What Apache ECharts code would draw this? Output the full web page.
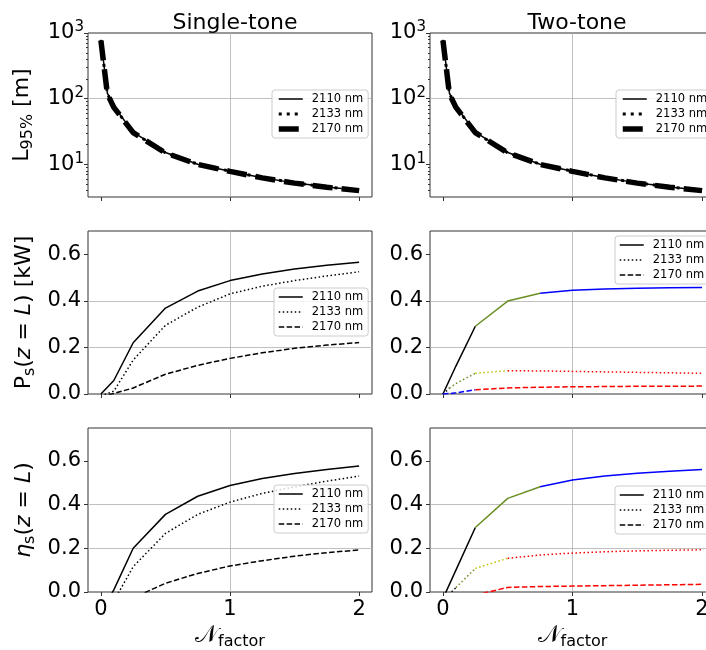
<!DOCTYPE html>
<html>
<head>
<meta charset="utf-8">
<script src="https://cdn.jsdelivr.net/npm/echarts@6/dist/echarts.min.js"></script>
<style>
  html, body { margin: 0; background: #fff; }
  #chart { width: 706px; height: 650px; }
</style>
</head>
<body>
<div id="chart"></div>
<script>
// sweep values of N_factor
const xFine = [0, 0.05, 0.1, 0.25, 0.5, 0.75, 1, 1.25, 1.5, 1.75, 2];
const xCoarse = [0, 0.1, 0.25, 0.5, 0.75, 1, 1.25, 1.5, 1.75, 2];
const wavelengths = ['2110 nm', '2133 nm', '2170 nm'];

// L95% [m] (xFine)
const lSingle2110 = [790, 122, 76, 31, 15.2, 10.1, 7.9, 6.3, 5.25, 4.55, 4.05];
const lSingle2133 = [780, 120, 75, 30.5, 15.1, 10.1, 7.9, 6.3, 5.25, 4.55, 4.05];
const lSingle2170 = [770, 118, 74, 30.5, 15.0, 10.0, 7.85, 6.25, 5.2, 4.5, 4.0];
const lTwo2110 = [790, 122, 76, 31, 15.2, 10.1, 7.9, 6.3, 5.25, 4.55, 4.05];
const lTwo2133 = [780, 120, 75, 30.5, 15.1, 10.1, 7.9, 6.3, 5.25, 4.55, 4.05];
const lTwo2170 = [770, 118, 74, 30.5, 15.0, 10.0, 7.85, 6.25, 5.2, 4.5, 4.0];

// Ps(z=L) [kW]
const psSingle2110 = [0, 0.058, 0.22, 0.369, 0.442, 0.487, 0.515, 0.537, 0.553, 0.566];   // xCoarse
const psSingle2133 = [-0.008, 0.012, 0.146, 0.295, 0.373, 0.43, 0.463, 0.487, 0.507, 0.525];
const psSingle2170 = [-0.01, 0.002, 0.026, 0.085, 0.123, 0.153, 0.177, 0.196, 0.21, 0.221];
const psTwo2110 = [0, 0.06, 0.12, 0.291, 0.399, 0.433, 0.446, 0.451, 0.454, 0.456, 0.457];  // xFine
const psTwo2133 = [0, 0.025, 0.045, 0.089, 0.100, 0.099, 0.097, 0.095, 0.093, 0.091, 0.089];
const psTwo2170 = [0, 0.002, 0.005, 0.018, 0.026, 0.029, 0.031, 0.032, 0.033, 0.033, 0.034];

// eta_s(z=L)
const etaSingle2110 = [-0.09, 0.01, 0.2, 0.355, 0.438, 0.487, 0.519, 0.542, 0.56, 0.576];  // xCoarse
const etaSingle2133 = [-0.15, -0.042, 0.116, 0.268, 0.355, 0.411, 0.451, 0.481, 0.507, 0.53];
const etaSingle2170 = [-0.2, -0.1, -0.027, 0.04, 0.085, 0.119, 0.143, 0.164, 0.18, 0.192];
const etaTwo2110 = [-0.03, 0.035, 0.1, 0.295, 0.428, 0.481, 0.512, 0.53, 0.543, 0.552, 0.56];  // xFine
const etaTwo2133 = [-0.08, -0.008, 0.02, 0.108, 0.154, 0.169, 0.178, 0.184, 0.188, 0.191, 0.193];
const etaTwo2170 = [-0.2, -0.15, -0.1, -0.014, 0.021, 0.025, 0.027, 0.029, 0.031, 0.033, 0.035];

const xTicks = [0, 1, 2];
const logTicks = [10, 100, 1000];
const linTicks = [0, 0.2, 0.4, 0.6];

const F = 'DejaVu Sans';
const GREEN = '#6b8e23', YELLOW = '#bfbf00', RED = '#ff0000', BLUE = '#0000ff';

// colour segments for two-tone curves: [fromIndex, toIndex, colour]
const psTwoSegs = [
  [[0, 3, '#000'], [3, 5, GREEN], [5, 10, BLUE]],
  [[0, 1, '#000'], [1, 3, GREEN], [3, 4, YELLOW], [4, 10, RED]],
  [[0, 3, BLUE], [3, 10, RED]]
];
const etaTwoSegs = [
  [[0, 3, '#000'], [3, 5, GREEN], [5, 10, BLUE]],
  [[0, 2, '#000'], [2, 3, GREEN], [3, 4, YELLOW], [4, 10, RED]],
  [[0, 3, BLUE], [3, 10, RED]]
];

const topStyles = [
  { width: 1.5, type: 'solid' },
  { width: 3, type: [3, 5] },
  { width: 5.5, type: [20, 9] }
];
const lowStyles = [
  { width: 1.5, type: 'solid' },
  { width: 1.5, type: [1.5, 2.5] },
  { width: 1.5, type: [5.5, 2.4] }
];

const cols = [{ left: 88, width: 284 }, { left: 430, width: 285 }];
const rows = [{ top: 33, height: 164 }, { top: 231, height: 163 }, { top: 428, height: 164 }];

const pairs = (xs, ys, from, to) => {
  const out = [];
  for (let i = from; i <= to; i++) out.push([xs[i], ys[i]]);
  return out;
};

const grid = [], xAxis = [], yAxis = [], series = [], legend = [];

const nameRich = {
  n: { fontSize: 22, fontFamily: F, color: '#000', lineHeight: 28 },
  i: { fontSize: 22, fontFamily: F, fontStyle: 'italic', color: '#000', lineHeight: 28 },
  sub: { fontSize: 16, fontFamily: F, color: '#000', verticalAlign: 'bottom', lineHeight: 16 },
  cal: { fontSize: 24, fontFamily: F, color: '#000', lineHeight: 28 }
};

const yNames = [
  '{n|L}{sub|95%}{n| [m]}',
  '{n|P}{sub|s}{n|(}{i|z}{n| = }{i|L}{n|) [kW]}',
  '{i|η}{sub|s}{n|(}{i|z}{n| = }{i|L}{n|)}'
];

for (let r = 0; r < 3; r++) {
  for (let c = 0; c < 2; c++) {
    const gi = r * 2 + c;
    grid.push({
      left: cols[c].left, width: cols[c].width, top: rows[r].top, height: rows[r].height,
      show: true, borderColor: '#333', borderWidth: 1, backgroundColor: 'transparent',
      outerBoundsMode: 'none'
    });
    xAxis.push({
      type: 'value', gridIndex: gi, min: -0.1, max: 2.1, splitNumber: 2,
      axisLine: { show: false, onZero: false },
      axisTick: { show: true, length: 4, customValues: xTicks, lineStyle: { color: '#333' } },
      axisLabel: {
        show: r === 2, customValues: xTicks, fontSize: 21, fontFamily: F, color: '#000', margin: 7
      },
      splitLine: { show: true, showMinLine: false, showMaxLine: false, lineStyle: { color: '#b0b0b0', width: 0.8 } },
      name: r === 2 ? '{cal|𝒩}{sub|factor}' : '',
      nameLocation: 'middle', nameGap: 30,
      nameTextStyle: { rich: nameRich }
    });
    const yBase = {
      gridIndex: gi,
      axisLine: { show: false, onZero: false },
      splitLine: { show: true, showMinLine: false, showMaxLine: false, lineStyle: { color: '#b0b0b0', width: 0.8 } },
      name: c === 0 ? yNames[r] : '',
      nameLocation: 'middle', nameRotate: 90, nameGap: r === 0 ? 52 : 50,
      nameTextStyle: { rich: nameRich }
    };
    if (r === 0) {
      yAxis.push(Object.assign(yBase, {
        type: 'log', min: 3.2, max: 1000,
        axisTick: { show: true, length: 4, customValues: logTicks, lineStyle: { color: '#333' } },
        minorTick: { show: true, splitNumber: 9, length: 2, lineStyle: { color: '#333' } },
        axisLabel: {
          customValues: logTicks, fontSize: 21, fontFamily: F, color: '#000', margin: 4, lineHeight: 26,
          formatter: v => '10{sup|' + Math.round(Math.log10(v)) + '}',
          rich: { sup: { fontSize: 15, fontFamily: F, color: '#000', verticalAlign: 'top', lineHeight: 14 } }
        }
      }));
    } else {
      yAxis.push(Object.assign(yBase, {
        type: 'value', min: 0, max: r === 1 ? 0.7 : 0.75, interval: 0.2,
        axisTick: { show: true, length: 4, customValues: linTicks, lineStyle: { color: '#333' } },
        axisLabel: {
          customValues: linTicks, fontSize: 21, fontFamily: F, color: '#000', margin: 7,
          formatter: v => v.toFixed(1)
        }
      }));
    }
  }
}

function line(name, gi, data, style, color) {
  return {
    type: 'line', name: name, xAxisIndex: gi, yAxisIndex: gi, data: data,
    symbol: 'none', color: color, itemStyle: { color: color },
    lineStyle: { color: color, width: style.width, type: style.type },
    clip: true, silent: true
  };
}

// top row
const lAll = [[lSingle2110, lSingle2133, lSingle2170], [lTwo2110, lTwo2133, lTwo2170]];
[0, 1].forEach(c => {
  lAll[c].forEach((ys, k) => {
    series.push(line(wavelengths[k] + '#' + c, c, pairs(xFine, ys, 0, ys.length - 1), topStyles[k], '#000'));
  });
});

// single-tone lower rows
const singleLow = [[psSingle2110, psSingle2133, psSingle2170], [etaSingle2110, etaSingle2133, etaSingle2170]];
singleLow.forEach((set, j) => {
  const gi = (j + 1) * 2;
  set.forEach((ys, k) => {
    series.push(line(wavelengths[k] + '#' + gi, gi, pairs(xCoarse, ys, 0, ys.length - 1), lowStyles[k], '#000'));
  });
});

// two-tone lower rows, coloured segments
const twoLow = [[psTwo2110, psTwo2133, psTwo2170], [etaTwo2110, etaTwo2133, etaTwo2170]];
const twoSegs = [psTwoSegs, etaTwoSegs];
twoLow.forEach((set, j) => {
  const gi = (j + 1) * 2 + 1;
  set.forEach((ys, k) => {
    series.push(line(wavelengths[k] + '#' + gi, gi, [], lowStyles[k], '#000')); // legend entry
    twoSegs[j][k].forEach(seg => {
      series.push(line('seg', gi, pairs(xFine, ys, seg[0], seg[1]), lowStyles[k], seg[2]));
    });
  });
});

const legendPos = [
  { left: 272, top: 90 }, { left: 616, top: 90 },
  { left: 274, top: 288 }, { left: 615, top: 236 },
  { left: 274, top: 485 }, { left: 615, top: 486 }
];
legendPos.forEach((p, gi) => {
  legend.push({
    left: p.left, top: p.top, orient: 'vertical',
    data: wavelengths.map(w => w + '#' + gi),
    formatter: name => name.split('#')[0],
    itemWidth: 24, itemHeight: 10, itemGap: 3,
    padding: [3, 5, 3, 4],
    backgroundColor: 'rgba(255,255,255,0.8)', borderColor: '#ccc', borderWidth: 1, borderRadius: 3,
    lineStyle: { width: 'inherit' },
    itemStyle: { opacity: 0 },
    textStyle: { fontSize: 11.5, fontFamily: F, color: '#000', padding: [0, 0, 0, 4] },
    selectedMode: false
  });
});

const chart = echarts.init(document.getElementById('chart'));
chart.setOption({
  animation: false,
  backgroundColor: '#fff',
  title: [
    { text: 'Single-tone', left: 230, top: 7, textAlign: 'center',
      textStyle: { fontSize: 22, fontWeight: 'normal', fontFamily: F, color: '#000' } },
    { text: 'Two-tone', left: 572, top: 7, textAlign: 'center',
      textStyle: { fontSize: 22, fontWeight: 'normal', fontFamily: F, color: '#000' } }
  ],
  legend: legend,
  grid: grid,
  xAxis: xAxis,
  yAxis: yAxis,
  series: series
});
</script>
</body>
</html>
